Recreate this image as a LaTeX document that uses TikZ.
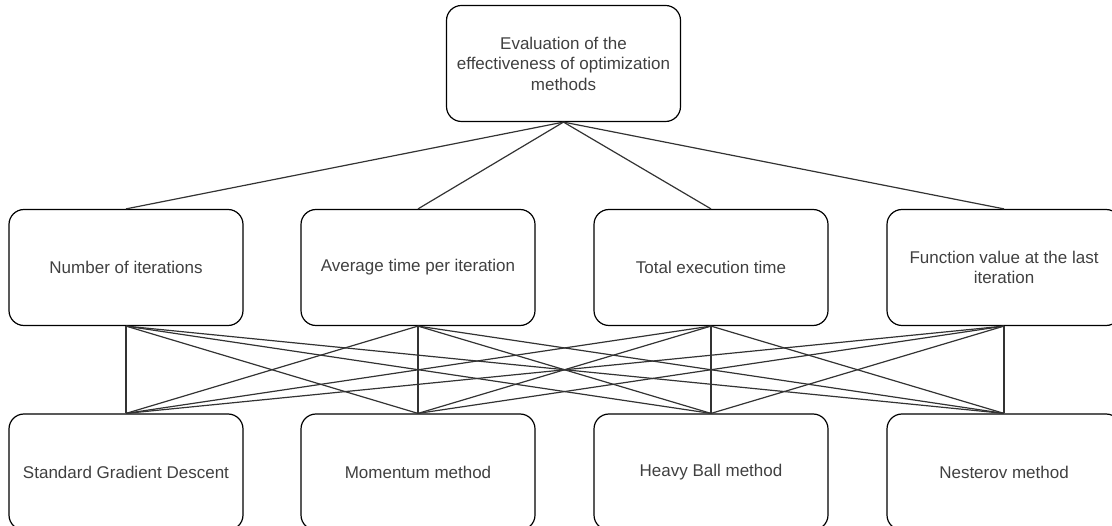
\documentclass[tikz,border=0pt]{standalone}
\usepackage{fontspec}
\setmainfont{Liberation Sans}
\usepackage{tikz}

\begin{document}
\begin{tikzpicture}[
x=1pt, y=-1pt,
crit/.style={rectangle, rounded corners=15pt, draw, line width=1.2pt, minimum width=234pt, minimum height=116pt, inner sep=0pt, align=center, text=black!75, font=\fontsize{17}{20.5}\selectfont},
link/.style={draw=black!80, line width=1.2pt}
]
	\useasboundingbox (0,0) rectangle (1112,526);

	\node at (563.5,63.5) [crit] (eval) {Evaluation of the\\effectiveness of optimization\\methods};

	\node at (126,267.5) [crit] (iter) {Number of iterations};
	\node at (418,267.5) [crit] (avgtime) {Average time per iteration};
	\node at (711,267.5) [crit] (tottime) {Total execution time};
	\node at (1004,267.5) [crit] (fval) {Function value at the last\\iteration};

	\node at (126,472) [crit] (sgd) {Standard Gradient Descent};
	\node at (418,472) [crit] (mom) {Momentum method};
	\node at (711,472) [crit] (hb) {Heavy Ball method};
	\node at (1004,472) [crit] (nest) {Nesterov method};

	\draw [link] (eval.south) -- (iter.north);
	\draw [link] (eval.south) -- (avgtime.north);
	\draw [link] (eval.south) -- (tottime.north);
	\draw [link] (eval.south) -- (fval.north);

	% every criterion to every method
	\foreach \c in {iter,avgtime,tottime,fval}
		\foreach \m in {sgd,mom,hb,nest}
			\draw [link] (\c.south) -- (\m.north);

\end{tikzpicture}
\end{document}
